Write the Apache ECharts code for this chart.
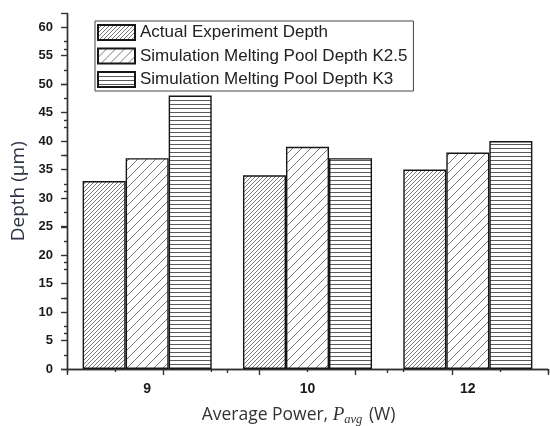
<!DOCTYPE html>
<html>
<head>
<meta charset="utf-8">
<script src="https://cdn.jsdelivr.net/npm/echarts@6/dist/echarts.min.js"></script>
<style>
  html, body { margin: 0; padding: 0; background: #fff; }
  #chart { width: 550px; height: 426px; }
</style>
</head>
<body>
<div id="chart"></div>
<script>
// Average laser power (W) on the category axis
const categories = ['9', '10', '12'];

// Melt pool depth (µm) per power level
const actualDepth = [33, 34, 35];
const simDepthK25 = [37, 39, 38];
const simDepthK3 = [48, 37, 40];

const seriesNames = [
  'Actual Experiment Depth',
  'Simulation Melting Pool Depth K2.5',
  'Simulation Melting Pool Depth K3'
];

// Depth axis tick labels and the half-step minor ticks between them
const yTicks = [0, 5, 10, 15, 20, 25, 30, 35, 40, 45, 50, 55, 60];
const yMinorTicks = [2.5, 7.5, 12.5, 17.5, 22.5, 27.5, 32.5, 37.5, 42.5, 47.5, 52.5, 57.5];
const yMax = 62.4;

// Hatch fills drawn onto small repeating tiles
function diagonalTile(size, color, width) {
  const c = document.createElement('canvas');
  c.width = size; c.height = size;
  const g = c.getContext('2d');
  g.fillStyle = '#fff';
  g.fillRect(0, 0, size, size);
  g.strokeStyle = color;
  g.lineWidth = width;
  g.beginPath();
  g.moveTo(-1, size + 1); g.lineTo(size + 1, -1);
  g.moveTo(-1, 1); g.lineTo(1, -1);
  g.moveTo(size - 1, size + 1); g.lineTo(size + 1, size - 1);
  g.stroke();
  return c;
}
function horizontalTile(size, color) {
  const c = document.createElement('canvas');
  c.width = 4; c.height = size;
  const g = c.getContext('2d');
  g.fillStyle = '#fff';
  g.fillRect(0, 0, 4, size);
  g.fillStyle = color;
  g.fillRect(0, 0, 4, 1);
  return c;
}

const fills = [
  { image: diagonalTile(4, '#6a6a6a', 0.9), repeat: 'repeat' },
  { image: diagonalTile(9, '#6a6a6a', 0.9), repeat: 'repeat' },
  { image: horizontalTile(4, '#5a5a5a'), repeat: 'repeat' }
];
const seriesData = [actualDepth, simDepthK25, simDepthK3];

const tickFont = { fontFamily: 'Liberation Sans, Arial, sans-serif', fontWeight: 'bold', color: '#1a1a1a' };
const lineStyle = { color: '#333', width: 1.4 };

const gridBox = { left: 67, right: 2, top: 13.5, bottom: 57, containLabel: false, outerBoundsMode: 'none' };

const chart = echarts.init(document.getElementById('chart'), null, { renderer: 'canvas' });

chart.setOption({
  animation: false,
  backgroundColor: '#fff',
  grid: [Object.assign({}, gridBox), Object.assign({}, gridBox)],
  legend: {
    data: seriesNames,
    orient: 'vertical',
    icon: 'rect',
    left: 95,
    top: 21,
    itemWidth: 37,
    itemHeight: 15,
    itemGap: 6.5,
    padding: [3, 6, 3, 2],
    borderColor: '#444',
    borderWidth: 1,
    backgroundColor: '#fff',
    textStyle: { fontFamily: 'Liberation Sans, Arial, sans-serif', fontSize: 17, color: '#222' }
  },
  xAxis: [
    {
      type: 'category',
      gridIndex: 0,
      position: 'bottom',
      data: categories,
      axisLine: { lineStyle: lineStyle },
      axisTick: { alignWithLabel: true, length: 7, lineStyle: lineStyle },
      axisLabel: Object.assign({ fontSize: 14, margin: 13 }, tickFont),
      splitLine: { show: false },
      name: '{a|Average Power, }{p|P}{s|avg}{a| (W)}',
      nameLocation: 'middle',
      nameGap: 35,
      nameTextStyle: {
        padding: [0, 18, 0, 0],
        rich: {
          a: { fontFamily: 'Open Sans, sans-serif', fontSize: 17.5, color: '#333', lineHeight: 22 },
          p: { fontFamily: 'Liberation Serif, serif', fontStyle: 'italic', fontSize: 19, color: '#333', lineHeight: 22 },
          s: { fontFamily: 'Liberation Serif, serif', fontStyle: 'italic', fontSize: 12.5, color: '#333', lineHeight: 22, verticalAlign: 'bottom', padding: [6, 2, 0, 0] }
        }
      }
    },
    {
      // short outward ticks on the category boundaries
      type: 'value',
      gridIndex: 1,
      position: 'bottom',
      min: 0, max: 3, interval: 1,
      axisLine: { show: false },
      axisTick: { show: true, length: 4, lineStyle: lineStyle },
      axisLabel: { show: false },
      splitLine: { show: false }
    },
    {
      // top frame edge with inward ticks
      type: 'value',
      gridIndex: 1,
      position: 'top',
      min: 0, max: 10, interval: 2,
      axisLine: { show: true, lineStyle: lineStyle },
      axisTick: { show: true, inside: true, length: 6, lineStyle: lineStyle },
      minorTick: { show: true, splitNumber: 2, length: 3, lineStyle: lineStyle },
      axisLabel: { show: false },
      splitLine: { show: false }
    }
  ],
  yAxis: [
    {
      type: 'value',
      gridIndex: 0,
      position: 'left',
      min: 0, max: yMax,
      axisLine: { show: true, lineStyle: lineStyle },
      axisTick: { show: true, length: 6, lineStyle: lineStyle, customValues: yTicks },
      axisLabel: Object.assign({ fontSize: 13, margin: 14, customValues: yTicks }, tickFont),
      splitLine: { show: false },
      name: 'Depth (\u03bcm)',
      nameLocation: 'middle',
      nameGap: 37,
      nameTextStyle: { fontFamily: 'Open Sans, sans-serif', fontSize: 19, color: '#2e3546' }
    },
    {
      // half-step minor ticks on the depth axis
      type: 'value',
      gridIndex: 1,
      position: 'left',
      min: 0, max: yMax,
      axisLine: { show: false },
      axisTick: { show: true, length: 3, lineStyle: lineStyle, customValues: yMinorTicks },
      axisLabel: { show: false },
      splitLine: { show: false }
    },
    {
      // right frame edge with inward ticks
      type: 'value',
      gridIndex: 1,
      position: 'right',
      min: 0, max: 10, interval: 2,
      axisLine: { show: true, lineStyle: lineStyle },
      axisTick: { show: true, inside: true, length: 6, lineStyle: lineStyle },
      minorTick: { show: true, splitNumber: 2, length: 3, lineStyle: lineStyle },
      axisLabel: { show: false },
      splitLine: { show: false }
    }
  ],
  series: seriesNames.map((name, i) => ({
    name: name,
    type: 'bar',
    xAxisIndex: 0,
    yAxisIndex: 0,
    data: seriesData[i],
    barGap: '0%',
    barCategoryGap: '19.5%',
    itemStyle: { color: fills[i], borderColor: '#161616', borderWidth: 1.4 },
    emphasis: { disabled: true }
  }))
});
</script>
</body>
</html>
